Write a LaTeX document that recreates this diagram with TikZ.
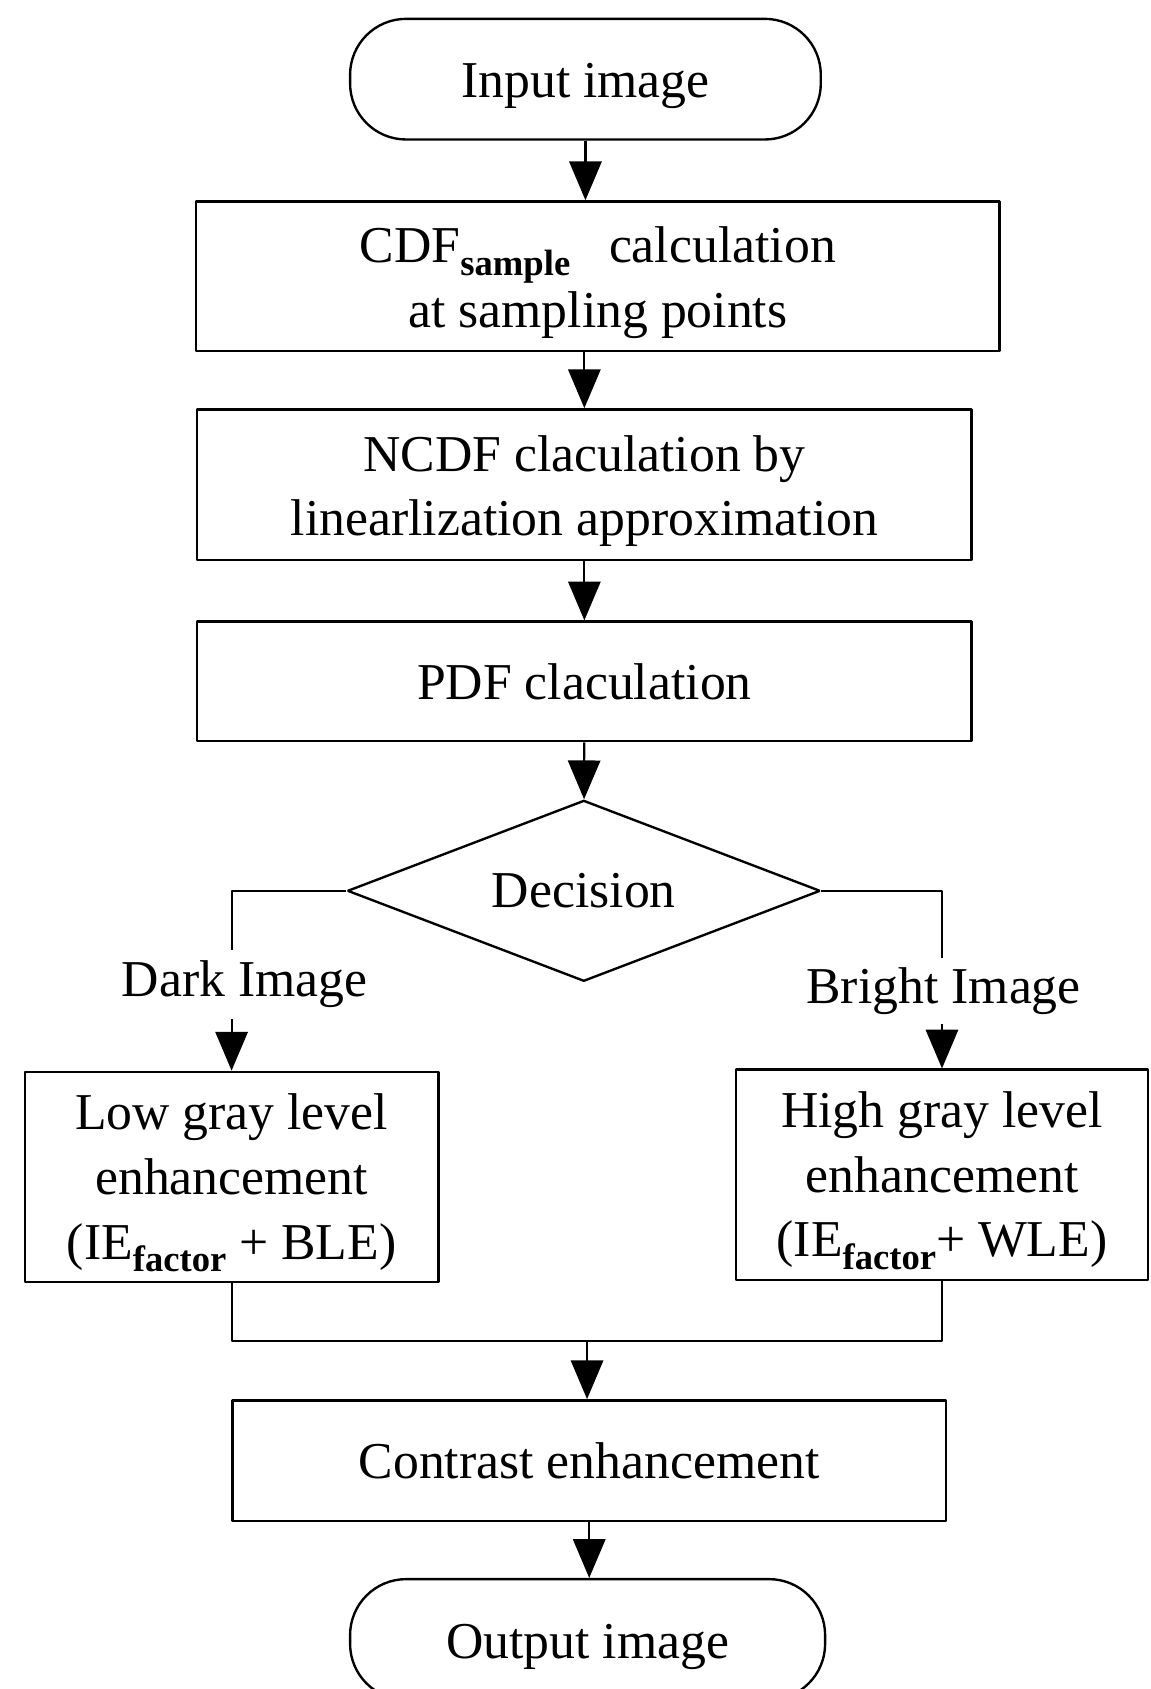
\documentclass[tikz,border=0pt]{standalone}
\usepackage{fontspec}
\setmainfont{Liberation Serif}
\usetikzlibrary{shapes,arrows.meta,positioning,calc}
\newcommand{\lowsub}[1]{\raisebox{-6pt}{\fontsize{17}{17}\selectfont\bfseries #1}}
\newcommand{\tp}{\rule{0pt}{22.5pt}}

\begin{document}
\begin{tikzpicture}[x=0.5pt,y=-0.5pt,>={Triangle[length=18pt,width=15pt]},line join=bevel,
  every node/.style={font=\fontsize{24}{30}\selectfont,align=center},
  termbox/.style={draw,line width=1.1pt,rounded corners=26pt,inner sep=0pt},
  procbox/.style={draw,line width=1.1pt,inner sep=0pt},
  decbox/.style={draw,line width=1.1pt,diamond,aspect=2.6,inner sep=0pt},
  flow/.style={line width=1pt}]
\useasboundingbox (0,0) rectangle (1068,1568);
% blocks
\node[termbox,minimum width=218.5pt,minimum height=56pt] (in) at (543.5,73.5) {\tp Input image};
\node[procbox,minimum width=373pt,minimum height=69.5pt] (cdf) at (555,256.5) {\tp CDF\lowsub{sample}\hspace{18pt}calculation\\at sampling points};
\node[procbox,minimum width=359.5pt,minimum height=70pt] (ncdf) at (542.5,450) {\tp NCDF claculation by\\linearlization approximation};
\node[procbox,minimum width=359.5pt,minimum height=55.5pt] (pdf) at (542.5,632.5) {PDF claculation};
\node[decbox,minimum width=219.5pt,minimum height=84pt] (dec) at (542,827) {Decision};
\node[inner sep=5pt] (dark) at (227,914) {Dark Image};
\node[inner sep=4pt] (bright) at (876,920) {Bright Image};
\node[procbox,minimum width=192pt,minimum height=97.5pt] (low) at (215,1092.5) {\tp Low gray level\\enhancement\\(IE\lowsub{factor} + BLE)};
\node[procbox,minimum width=191.5pt,minimum height=97.5pt] (high) at (874.5,1090.5) {\tp High gray level\\enhancement\\(IE\lowsub{factor}+ WLE)};
\coordinate (join) at (545,1245);
\node[procbox,minimum width=331pt,minimum height=56pt] (con) at (547,1356) {Contrast enhancement};
\node[termbox,minimum width=220.5pt,minimum height=56pt] (out) at (545.5,1522) {\tp Output image};
% connectors
\draw[flow,->] (in) -- (in |- cdf.north);
\draw[flow,->] (ncdf.north |- cdf.south) -- (ncdf.north);
\draw[flow,->] (ncdf) -- (pdf);
\draw[flow,->] (pdf) -- (dec);
\draw[flow] (dec.west) -| (low.north |- dark.north);
\draw[flow,->] (low.north |- dark.south) -- (low.north);
\draw[flow] (dec.east) -| (high.north |- bright.north);
\draw[flow,->] (high.north |- bright.south) -- (high.north);
\draw[flow] (low) |- (join) -| (high);
\draw[flow,->] (join) -- (join |- con.north);
\draw[flow,->] (con) -- (con |- out.north);
\end{tikzpicture}
\end{document}
